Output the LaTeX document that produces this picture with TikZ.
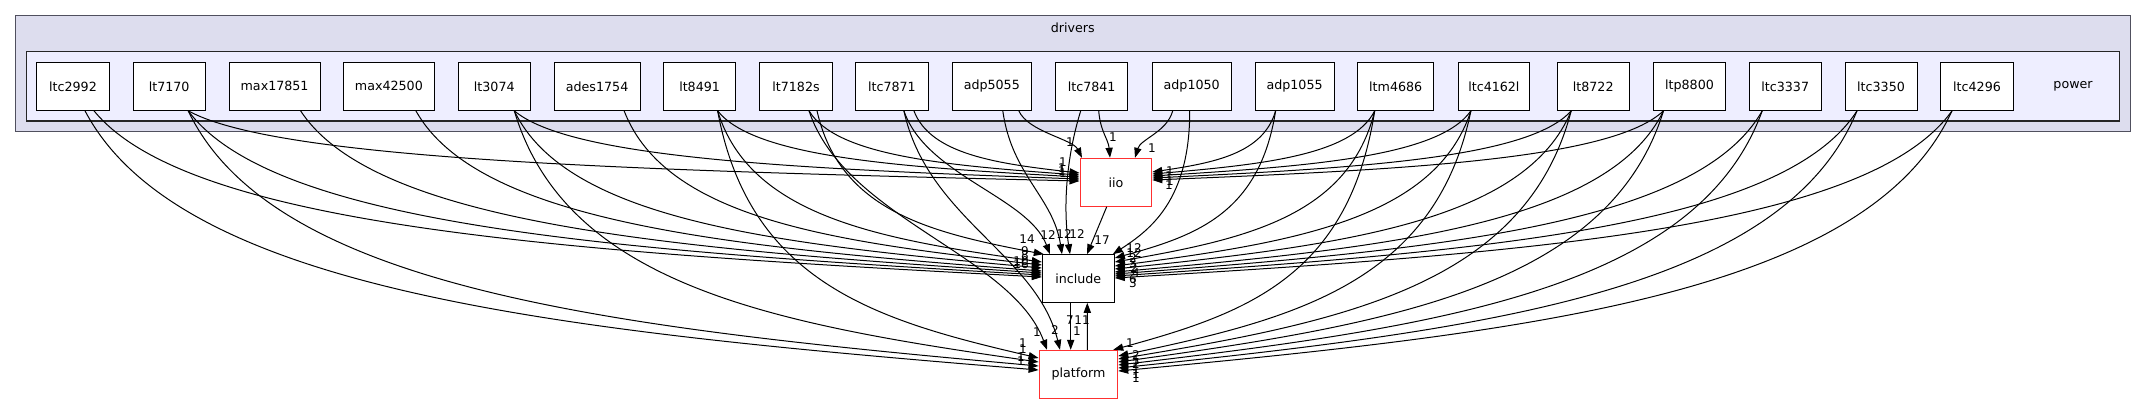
\documentclass[tikz,border=0pt]{standalone}
\usepackage{fontspec}
\setmainfont{DejaVu Sans}
\usetikzlibrary{arrows.meta,calc}
\definecolor{clouter}{HTML}{DDDDEE}
\definecolor{clinner}{HTML}{EEEEFF}
\definecolor{clborder}{HTML}{50505E}
\definecolor{redb}{HTML}{FF3030}
\newcommand\EdgeS[2]{\draw[edge] let \p1=(#1), \p2=(#2) in (\p1) .. controls ({\x1+0.1*(\x2-\x1)},{\y1+0.7*(\y2-\y1)}) and ({\x2-0.5*(\x2-\x1)},{\y2-0.15*(\y2-\y1)}) .. (\p2);}
\newcommand\EdgeT[2]{\draw[edge] let \p1=(#1), \p2=(#2) in (\p1) .. controls ({\x1+0.15*(\x2-\x1)},{\y1+0.45*(\y2-\y1)}) and ({\x2-0.15*(\x2-\x1)},{\y2-0.4*(\y2-\y1)}) .. (\p2);}
\tikzset{
  box/.style={draw=black, fill=white, line width=0.75pt, minimum height=36pt, inner sep=0pt, font=\fontsize{9.5}{11}\selectfont},
  redbox/.style={box, draw=redb},
  edge/.style={draw=black, line width=0.75pt, -{Triangle[length=7.5pt,width=5.4pt]}},
  lbl/.style={inner sep=0pt, font=\fontsize{9}{10}\selectfont},
  clabel/.style={inner sep=0pt, font=\fontsize{9.5}{11}\selectfont}
}
\begin{document}
\begin{tikzpicture}[x=0.75pt,y=0.75pt]
\useasboundingbox (0,0) rectangle (2147,-404);
% clusters
\draw[fill=clouter, draw=clborder, line width=1pt] (15.7,-15.7) rectangle (2130.3,-131.7);
\node[clabel] (drv) at (1072.8,-27.7) {drivers};
\draw[fill=clinner, draw=black!85, line width=0.8pt] (26.7,-51.7) rectangle (2119.4,-121);
\node[clabel] (pwr) at (2073,-86.3) {power};
% power nodes
\node[box, minimum width=54.45pt] (ltc2992) at (73,-86.3) {ltc2992};
\node[box, minimum width=54pt] (lt7170) at (169.2,-86.3) {lt7170};
\node[box, minimum width=68.25pt] (max17851) at (274.6,-86.3) {max17851};
\node[box, minimum width=68.25pt] (max42500) at (388.9,-86.3) {max42500};
\node[box, minimum width=54pt] (lt3074) at (494.3,-86.3) {lt3074};
\node[box, minimum width=64.35pt] (ades1754) at (597.1,-86.3) {ades1754};
\node[box, minimum width=54.3pt] (lt8491) at (699.6,-86.3) {lt8491};
\node[box, minimum width=54.4pt] (lt7182s) at (796,-86.3) {lt7182s};
\node[box, minimum width=54.45pt] (ltc7871) at (891.9,-86.3) {ltc7871};
\node[box, minimum width=58.9pt] (adp5055) at (991.8,-86.3) {adp5055};
\node[box, minimum width=54.4pt] (ltc7841) at (1091.7,-86.3) {ltc7841};
\node[box, minimum width=59.25pt] (adp1050) at (1191.7,-86.3) {adp1050};
\node[box, minimum width=59.25pt] (adp1055) at (1294.6,-86.3) {adp1055};
\node[box, minimum width=57.2pt] (ltm4686) at (1395.7,-86.3) {ltm4686};
\node[box, minimum width=52.9pt] (ltc4162l) at (1493.9,-86.3) {ltc4162l};
\node[box, minimum width=54pt] (lt8722) at (1593.2,-86.3) {lt8722};
\node[box, minimum width=54pt] (ltp8800) at (1689.5,-86.3) {ltp8800};
\node[box, minimum width=54pt] (ltc3337) at (1785.2,-86.3) {ltc3337};
\node[box, minimum width=54pt] (ltc3350) at (1881,-86.3) {ltc3350};
\node[box, minimum width=54.4pt] (ltc4296) at (1977,-86.3) {ltc4296};
% outside nodes
\node[redbox, minimum width=53.8pt] (iio) at (1115.9,-182.3) {iio};
\node[box, minimum width=54pt, minimum height=35.7pt] (include) at (1078.3,-278.5) {include};
\node[redbox, minimum width=59pt] (platform) at (1078.4,-374.3) {platform};
% edges from left sources
\EdgeS{$(ltc2992.south)+(21,0)$}{$(include.west)+(0,1.5)$}
\EdgeS{$(ltc2992.south)+(12,0)$}{$(platform.west)+(0,4.3)$}
\EdgeS{$(lt7170.south)+(19,0)$}{$(iio.west)+(0,1.3)$}
\EdgeS{$(lt7170.south)+(19,0)$}{$(include.west)+(0,3.5)$}
\EdgeS{$(lt7170.south)+(19,0)$}{$(platform.west)+(0,8.3)$}
\EdgeS{$(max17851.south)+(26,0)$}{$(include.west)+(0,5.5)$}
\EdgeS{$(max42500.south)+(27,0)$}{$(include.west)+(0,7.5)$}
\EdgeS{$(lt3074.south)+(20,0)$}{$(iio.west)+(0,3.3)$}
\EdgeS{$(lt3074.south)+(20,0)$}{$(include.west)+(0,10.5)$}
\EdgeS{$(lt3074.south)+(20,0)$}{$(platform.west)+(0,12.3)$}
\EdgeS{$(ades1754.south)+(27,0)$}{$(include.west)+(0,13.5)$}
\EdgeS{$(lt8491.south)+(18,0)$}{$(iio.west)+(0,5.3)$}
\EdgeS{$(lt8491.south)+(18,0)$}{$(include.west)+(0,16.5)$}
\EdgeS{$(lt8491.south)+(18,0)$}{$(platform.west)+(0,16.3)$}
\EdgeS{$(lt7182s.south)+(13,0)$}{$(iio.west)+(0,7.3)$}
\EdgeS{$(lt7182s.south)+(21,0)$}{$(include.north west)+(2,0)$}
\EdgeT{$(lt7182s.south)+(13,0)$}{$(platform.north)+(-31.4,0)$}
\EdgeS{$(ltc7871.south)+(22,0)$}{$(iio.west)+(0,9.3)$}
\EdgeT{$(ltc7871.south)+(12,0)$}{$(include.north)+(-28.3,0)$}
\EdgeT{$(ltc7871.south)+(12,0)$}{$(platform.north)+(-18.4,0)$}
\EdgeT{$(adp5055.south)+(27,0)$}{$(iio.north)+(-33.9,0)$}
\EdgeT{$(adp5055.south)+(11,0)$}{$(include.north)+(-16.3,0)$}
\EdgeT{$(ltc7841.south)+(7,0)$}{$(iio.north)+(-5.9,0)$}
\draw[edge] ($(ltc7841.south)+(-11,0)$) .. controls (1064,-165) and (1064,-215) .. ($(include.north)+(-8.3,0)$);
% edges from right sources
\EdgeT{$(adp1050.south)+(-19,0)$}{$(iio.north)+(19.1,0)$}
\draw[edge] ($(adp1050.south)+(-2,0)$) .. controls (1190,-200) and (1150,-230) .. ($(include.north east)+(-2,0)$);
\EdgeS{$(adp1055.south)+(-19,0)$}{$(iio.east)+(0,10.3)$}
\EdgeS{$(adp1055.south)+(-19,0)$}{$(include.east)+(0,20.5)$}
\EdgeS{$(ltm4686.south)+(-21,0)$}{$(iio.east)+(0,8.3)$}
\EdgeS{$(ltm4686.south)+(-21,0)$}{$(include.east)+(0,16.5)$}
\EdgeS{$(ltm4686.south)+(-21,0)$}{$(platform.north east)+(-5,0)$}
\EdgeS{$(ltc4162l.south)+(-23,0)$}{$(iio.east)+(0,6.3)$}
\EdgeS{$(ltc4162l.south)+(-23,0)$}{$(include.east)+(0,12.5)$}
\EdgeS{$(ltc4162l.south)+(-23,0)$}{$(platform.east)+(0,18.3)$}
\EdgeS{$(lt8722.south)+(-22,0)$}{$(iio.east)+(0,4.3)$}
\EdgeS{$(lt8722.south)+(-22,0)$}{$(include.east)+(0,9.5)$}
\EdgeS{$(lt8722.south)+(-22,0)$}{$(platform.east)+(0,15.3)$}
\EdgeS{$(ltp8800.south)+(-26,0)$}{$(iio.east)+(0,2.3)$}
\EdgeS{$(ltp8800.south)+(-26,0)$}{$(include.east)+(0,6.5)$}
\EdgeS{$(ltp8800.south)+(-26,0)$}{$(platform.east)+(0,12.3)$}
\EdgeS{$(ltc3337.south)+(-23,0)$}{$(include.east)+(0,4.5)$}
\EdgeS{$(ltc3337.south)+(-23,0)$}{$(platform.east)+(0,9.3)$}
\EdgeS{$(ltc3350.south)+(-24,0)$}{$(include.east)+(0,2.5)$}
\EdgeS{$(ltc3350.south)+(-24,0)$}{$(platform.east)+(0,6.3)$}
\EdgeS{$(ltc4296.south)+(-25,0)$}{$(include.east)+(0,0.5)$}
\EdgeS{$(ltc4296.south)+(-25,0)$}{$(platform.east)+(0,3.3)$}
% internal edges
\draw[edge] ($(iio.south)+(-9.2,0)$) -- ($(include.north)+(8.7,0)$);
\draw[edge] ($(include.south)+(-7.6,0)$) -- ($(platform.north)+(-7.7,0)$);
\draw[edge] ($(platform.north)+(8.9,0)$) -- ($(include.south)+(9,0)$);
% labels: iio
\node[lbl] (la1) at (1063,-162) {1};
\node[lbl] (la2) at (1062,-168) {1};
\node[lbl] (la3) at (1062,-171) {1};
\node[lbl] (la4) at (1063,-173) {1};
\node[lbl] (la5) at (1070,-142) {1};
\node[lbl] (la6) at (1113,-137) {1};
\node[lbl] (la7) at (1152,-148) {1};
\node[lbl] (la8) at (1170,-171) {1};
\node[lbl] (la9) at (1169,-176) {1};
\node[lbl] (la10) at (1170,-181) {1};
\node[lbl] (la11) at (1169,-185) {1};
% labels: include
\node[lbl] (lb1) at (1027,-239) {14};
\node[lbl] (lb2) at (1025,-251) {9};
\node[lbl] (lb3) at (1025,-255) {8};
\node[lbl] (lb4) at (1021,-261) {10};
\node[lbl] (lb5) at (1021,-264) {16};
\node[lbl] (lb6) at (1048,-235) {12};
\node[lbl] (lb7) at (1064,-234) {12};
\node[lbl] (lb8) at (1077,-234) {12};
\node[lbl] (lb9) at (1102,-240) {17};
\node[lbl] (lb10) at (1134,-248) {12};
\node[lbl] (lb11) at (1134,-253) {12};
\node[lbl] (lb12) at (1133,-258) {2};
\node[lbl] (lb13) at (1133,-263) {3};
\node[lbl] (lb14) at (1134,-268) {2};
\node[lbl] (lb15) at (1136,-273) {4};
\node[lbl] (lb16) at (1133,-279) {6};
\node[lbl] (lb17) at (1133,-283) {3};
% labels: platform
\node[lbl] (lc1) at (1070,-320) {7};
\node[lbl] (lc2) at (1082,-320) {11};
\node[lbl] (lc3) at (1077,-331) {1};
\node[lbl] (lc4) at (1037,-332) {1};
\node[lbl] (lc5) at (1055,-330) {2};
\node[lbl] (lc6) at (1023,-343) {1};
\node[lbl] (lc7) at (1023,-349) {1};
\node[lbl] (lc8) at (1021,-357) {1};
\node[lbl] (lc9) at (1021,-361) {1};
\node[lbl] (lc10) at (1130,-343) {1};
\node[lbl] (lc11) at (1136,-355) {2};
\node[lbl] (lc12) at (1136,-360) {1};
\node[lbl] (lc13) at (1136,-364) {2};
\node[lbl] (lc14) at (1136,-369) {1};
\node[lbl] (lc15) at (1136,-374) {1};
\node[lbl] (lc16) at (1136,-378) {1};
\end{tikzpicture}
\end{document}
